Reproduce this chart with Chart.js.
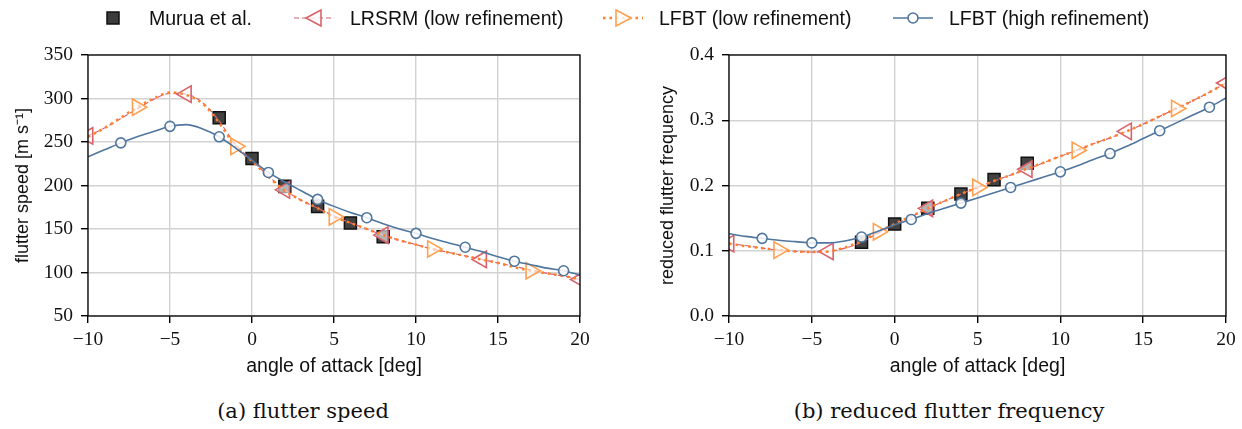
<!DOCTYPE html>
<html lang="en">
<head>
<meta charset="UTF-8">
<title>Flutter speed and frequency</title>
<script src="https://cdn.jsdelivr.net/npm/chart.js"></script>
<style>
  body { margin: 0; background: #fff; width: 1242px; height: 429px; position: relative; overflow: hidden; }
  .box { position: absolute; top: 0; width: 621px; height: 380px; }
  .item { position: absolute; top: 6px; height: 24px; display: flex; align-items: center;
          font-family: "Liberation Sans", sans-serif; font-size: 19.5px; color: #111; white-space: nowrap; }
  .item svg { margin-right: 16px; }
  .cap { position: absolute; top: 399px; font-family: "DejaVu Serif", serif; font-size: 21px;
         transform: translateX(-50%); white-space: nowrap; color: #111; }
</style>
</head>
<body>
<div class="box" style="left:0"><canvas id="speedChart"></canvas></div>
<div class="box" style="left:621px"><canvas id="freqChart"></canvas></div>

<div class="item" style="left:93px"><svg width="40" height="16"><rect x="14" y="2" width="12" height="12" fill="#3c3c3c" stroke="#111" stroke-width="1.5"/></svg>Murua et al.</div>
<div class="item" style="left:294px"><svg width="40" height="18"><line x1="0" y1="9" x2="40" y2="9" stroke="#d9626b" stroke-width="1.2" stroke-dasharray="5,3"/><polygon points="12,9 27,1 27,17" fill="rgba(255,255,255,0.8)" stroke="#d9626b" stroke-width="1.6"/></svg>LRSRM (low refinement)</div>
<div class="item" style="left:603px"><svg width="40" height="18"><line x1="0" y1="9" x2="40" y2="9" stroke="#ff7f2a" stroke-width="2.5" stroke-dasharray="2.5,4"/><polygon points="28,9 13,1 13,17" fill="rgba(255,255,255,0.8)" stroke="#ffa050" stroke-width="1.6"/></svg>LFBT (low refinement)</div>
<div class="item" style="left:893px"><svg width="40" height="16"><line x1="0" y1="8" x2="40" y2="8" stroke="#50769e" stroke-width="1.6"/><circle cx="20" cy="8" r="5" fill="#fff" stroke="#50769e" stroke-width="1.6"/></svg>LFBT (high refinement)</div>

<div class="cap" style="left:303px">(a) flutter speed</div>
<div class="cap" style="left:949px">(b) reduced flutter frequency</div>

<script>
// angle of attack [deg], shared by the simulated curves
const angles = [-10, -9, -8, -7, -6, -5, -4, -3, -2, -1, 0, 1, 2, 3, 4, 5, 6, 7, 8, 9, 10,
                11, 12, 13, 14, 15, 16, 17, 18, 19, 20];

// experiment
const muruaAngles = [-2, 0, 2, 4, 6, 8];
const muruaSpeed = [278, 231, 199, 176, 157, 141];
const muruaFreq = [0.113, 0.141, 0.165, 0.187, 0.209, 0.234];

// flutter speed [m/s]
const lrsrmSpeed = [257, 266, 277, 288, 299, 306, 305, 295, 274, 247, 229, 211, 195, 183, 174, 165, 157, 150, 143, 137,
                    132, 127, 123, 119, 115, 111, 107, 103, 99, 96, 92];
const lfbtLowSpeed = [256, 266, 278, 290, 300, 307, 304, 294, 272, 245, 228, 210, 194, 183, 174, 164, 157, 150, 143, 137,
                      132, 127, 123, 119, 115, 111, 106, 102, 99, 96, 92];
const lfbtHighSpeed = [233, 241, 249, 256, 262, 268, 270, 265, 256, 243, 229, 215, 204, 194, 184, 176, 169, 163, 156, 150,
                       145, 139, 134, 129, 124, 118, 113, 109, 105, 102, 97];

// reduced flutter frequency
const lrsrmFreq = [0.111, 0.108, 0.104, 0.101, 0.099, 0.098, 0.099, 0.104, 0.113, 0.127, 0.140, 0.152, 0.165, 0.176,
                   0.187, 0.197, 0.207, 0.216, 0.225, 0.235, 0.245, 0.254, 0.264, 0.273, 0.283, 0.294, 0.306, 0.318,
                   0.330, 0.343, 0.357];
const lfbtLowFreq = [0.111, 0.107, 0.104, 0.101, 0.099, 0.098, 0.099, 0.105, 0.115, 0.129, 0.141, 0.153, 0.165, 0.176,
                     0.187, 0.197, 0.207, 0.216, 0.226, 0.235, 0.245, 0.254, 0.264, 0.273, 0.283, 0.294, 0.306, 0.318,
                     0.330, 0.343, 0.357];
const lfbtHighFreq = [0.126, 0.122, 0.119, 0.116, 0.114, 0.112, 0.112, 0.115, 0.121, 0.130, 0.140, 0.148, 0.157, 0.165,
                      0.173, 0.181, 0.189, 0.197, 0.205, 0.213, 0.221, 0.230, 0.240, 0.249, 0.260, 0.272, 0.284, 0.296,
                      0.308, 0.320, 0.334];

// where the markers sit on each curve
const lrsrmMarks = [-10, -4, 2, 8, 14, 20];
const lfbtLowMarks = [-7, -1, 5, 11, 17];
const lfbtHighMarks = [-8, -5, -2, 1, 4, 7, 10, 13, 16, 19];

// axis ticks
const angleTicks = [-10, -5, 0, 5, 10, 15, 20];
const speedTicks = [50, 100, 150, 200, 250, 300, 350];
const freqTicks = [0.0, 0.1, 0.2, 0.3, 0.4];

const RED = '#d9626b', ORANGE = '#ff7f2a', ORANGE_M = '#ffa050', BLUE = '#50769e';
const SANS = '"Liberation Sans", sans-serif';
const SERIF = '"Liberation Serif", serif';

function pts(xs, ys) {
    return xs.map((x, i) => ({ x: x, y: ys[i] }));
}

function marker(marks, r) {
    return ctx => marks.includes(angles[ctx.dataIndex]) ? r : 0;
}

// black box round the plot area
const frame = {
    id: 'frame',
    afterDraw(chart) {
        const a = chart.chartArea, c = chart.ctx;
        c.save();
        c.strokeStyle = '#000';
        c.lineWidth = 1.3;
        c.strokeRect(a.left, a.top, a.right - a.left, a.bottom - a.top);
        c.restore();
    }
};

function makeChart(id, cfg) {
    const ctx = document.getElementById(id).getContext('2d');
    return new Chart(ctx, {
        type: 'line',
        data: {
            datasets: [
                {
                    label: 'Murua et al.',
                    data: pts(muruaAngles, cfg.murua),
                    showLine: false,
                    pointStyle: 'rect',
                    pointRadius: 8.5,
                    pointBackgroundColor: 'rgba(50,50,50,0.92)',
                    pointBorderColor: '#111',
                    pointBorderWidth: 1.5,
                    order: 4
                },
                {
                    label: 'LRSRM (low refinement)',
                    data: pts(angles, cfg.lrsrm),
                    borderColor: RED,
                    borderWidth: 1.2,
                    borderDash: [5, 3],
                    cubicInterpolationMode: 'monotone',
                    pointStyle: 'triangle',
                    pointRotation: -90,
                    pointRadius: marker(lrsrmMarks, 9.5),
                    pointBackgroundColor: 'rgba(255,255,255,0.6)',
                    pointBorderColor: RED,
                    pointBorderWidth: 1.6,
                    order: 3
                },
                {
                    label: 'LFBT (low refinement)',
                    data: pts(angles, cfg.lfbtLow),
                    borderColor: ORANGE,
                    borderWidth: 2.5,
                    borderDash: [2.5, 4],
                    cubicInterpolationMode: 'monotone',
                    pointStyle: 'triangle',
                    pointRotation: 90,
                    pointRadius: marker(lfbtLowMarks, 9.5),
                    pointBackgroundColor: 'rgba(255,255,255,0.6)',
                    pointBorderColor: ORANGE_M,
                    pointBorderWidth: 1.6,
                    order: 2
                },
                {
                    label: 'LFBT (high refinement)',
                    data: pts(angles, cfg.lfbtHigh),
                    borderColor: BLUE,
                    borderWidth: 1.6,
                    cubicInterpolationMode: 'monotone',
                    pointStyle: 'circle',
                    pointRadius: marker(lfbtHighMarks, 5),
                    pointBackgroundColor: 'rgba(255,255,255,0.85)',
                    pointBorderColor: BLUE,
                    pointBorderWidth: 1.6,
                    order: 1
                }
            ]
        },
        options: {
            responsive: true,
            maintainAspectRatio: false,
            animation: false,
            events: [],
            layout: { padding: { left: cfg.padLeft, right: cfg.padRight, top: 55, bottom: 0 } },
            plugins: { legend: { display: false }, tooltip: { enabled: false } },
            scales: {
                x: {
                    type: 'linear',
                    min: -10,
                    max: 20,
                    afterBuildTicks: s => { s.ticks = angleTicks.map(v => ({ value: v })); },
                    afterFit: s => { s.height = 64; },
                    border: { display: false },
                    grid: { color: '#d2d2d2', lineWidth: 1.4, tickColor: '#000', tickLength: 7 },
                    ticks: {
                        font: { family: SERIF, size: 19.5 },
                        color: '#111',
                        padding: 5,
                        maxRotation: 0,
                        callback: v => (v < 0 ? '\u2212' + Math.abs(v) : String(v))
                    },
                    title: {
                        display: true,
                        text: 'angle of attack [deg]',
                        font: { family: SANS, size: 19.5 },
                        color: '#111',
                        padding: { top: 0, bottom: 2 }
                    }
                },
                y: {
                    type: 'linear',
                    min: cfg.yTicks[0],
                    max: cfg.yTicks[cfg.yTicks.length - 1],
                    afterBuildTicks: s => { s.ticks = cfg.yTicks.map(v => ({ value: v })); },
                    afterFit: s => { s.width = cfg.yWidth; },
                    border: { display: false },
                    grid: { color: '#d2d2d2', lineWidth: 1.4, tickColor: '#000', tickLength: 7 },
                    ticks: {
                        font: { family: SERIF, size: 19.5 },
                        color: '#111',
                        padding: 8,
                        callback: cfg.fmt
                    },
                    title: {
                        display: true,
                        text: cfg.yTitle,
                        font: { family: SANS, size: 18 },
                        color: '#111',
                        padding: { top: cfg.titlePad, bottom: 0 }
                    }
                }
            }
        },
        plugins: [frame]
    });
}

makeChart('speedChart', {
    murua: muruaSpeed, lrsrm: lrsrmSpeed, lfbtLow: lfbtLowSpeed, lfbtHigh: lfbtHighSpeed,
    yTicks: speedTicks, yTitle: 'flutter speed [m s\u207B\u00B9]',
    fmt: v => String(v), padLeft: 4, yWidth: 84, padRight: 41, titlePad: 8
});

makeChart('freqChart', {
    murua: muruaFreq, lrsrm: lrsrmFreq, lfbtLow: lfbtLowFreq, lfbtHigh: lfbtHighFreq,
    yTicks: freqTicks, yTitle: 'reduced flutter frequency',
    fmt: v => v.toFixed(1), padLeft: 30, yWidth: 78, padRight: 16, titlePad: 6
});
</script>
</body>
</html>
